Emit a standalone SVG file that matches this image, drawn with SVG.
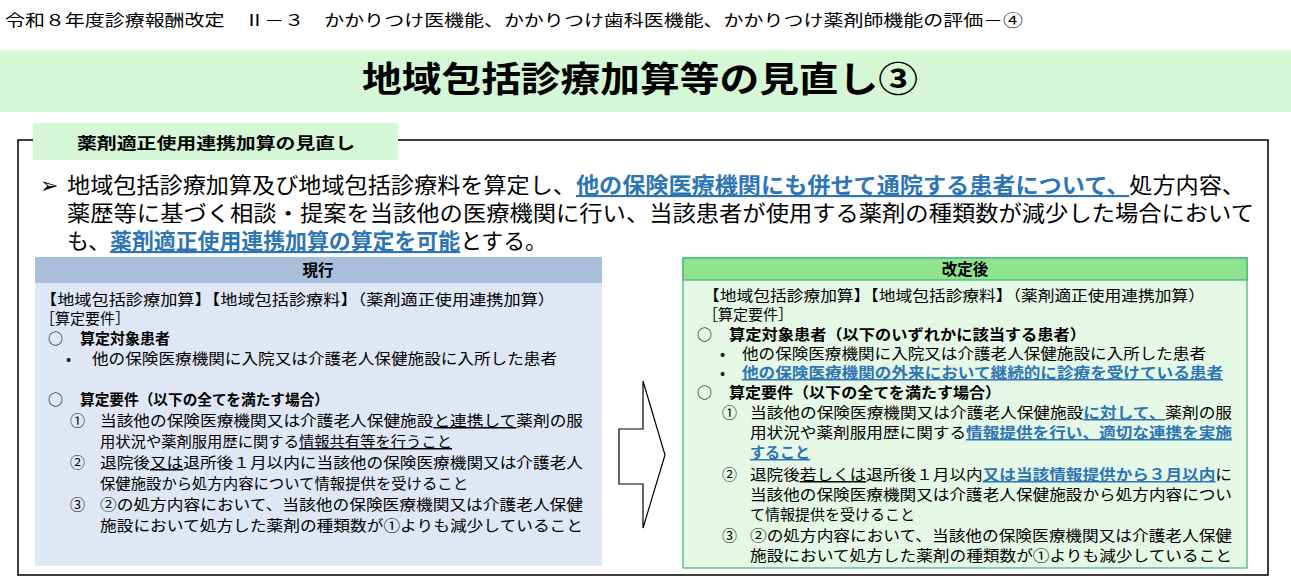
<svg xmlns="http://www.w3.org/2000/svg" width="1291" height="583" viewBox="0 0 1291 583">
<style>
text{font-family:"Noto Sans CJK JP","Noto Sans",sans-serif;fill:#000}
.b{font-weight:bold}
.bl{fill:#2e75b6;font-weight:bold;text-decoration:underline}
.u{text-decoration:underline}
.s{font-size:15px}
.m{font-size:21.5px}
</style>
<rect width="1291" height="583" fill="#fff"/>
<text x="5" y="26" font-size="16" textLength="1018" lengthAdjust="spacingAndGlyphs">令和８年度診療報酬改定　Ⅱ－３　かかりつけ医機能、かかりつけ歯科医機能、かかりつけ薬剤師機能の評価－④</text>
<rect x="0" y="50" width="1291" height="62" fill="#d5f7d5"/>
<text class="b" x="362" y="92" font-size="35" textLength="556" lengthAdjust="spacingAndGlyphs">地域包括診療加算等の見直し③</text>
<g id="frame">
<rect x="18" y="140" width="1250" height="435" fill="none" stroke="#000" stroke-width="1.5"/>
<rect x="33" y="123" width="365" height="37" fill="#d5f7d5"/>
<text class="b" x="77" y="149" font-size="16" textLength="278" lengthAdjust="spacingAndGlyphs">薬剤適正使用連携加算の見直し</text>
</g>
<g id="summary">
<text class="m" x="40" y="193">➢</text>
<text class="m" x="67" y="193" textLength="1178" lengthAdjust="spacingAndGlyphs">地域包括診療加算及び地域包括診療料を算定し、<tspan class="bl">他の保険医療機関にも併せて通院する患者について、</tspan>処方内容、</text>
<text class="m" x="67" y="221" textLength="1187" lengthAdjust="spacingAndGlyphs">薬歴等に基づく相談・提案を当該他の医療機関に行い、当該患者が使用する薬剤の種類数が減少した場合において</text>
<text class="m" x="67" y="249" textLength="480" lengthAdjust="spacingAndGlyphs">も、<tspan class="bl">薬剤適正使用連携加算の算定を可能</tspan>とする。</text>
</g>
<g id="current">
<rect x="35" y="257" width="567" height="309" fill="#dee7f3"/>
<rect x="35" y="257" width="567" height="26" fill="#a8bedb"/>
<text class="b" x="318" y="276" font-size="15.5" text-anchor="middle">現行</text>
<g class="s">
<text x="40" y="305" textLength="515" lengthAdjust="spacingAndGlyphs">【地域包括診療加算】【地域包括診療料】（薬剤適正使用連携加算）</text>
<text x="40" y="324">［算定要件］</text>
<text x="48" y="344">○</text><text class="b" x="80" y="344">算定対象患者</text>
<text x="66" y="364">•</text><text x="92" y="364" textLength="465" lengthAdjust="spacingAndGlyphs">他の保険医療機関に入院又は介護老人保健施設に入所した患者</text>
<text x="48" y="405">○</text><text class="b" x="80" y="405" textLength="249" lengthAdjust="spacingAndGlyphs">算定要件（以下の全てを満たす場合）</text>
<text x="70" y="426">①</text><text x="100" y="426" textLength="483" lengthAdjust="spacingAndGlyphs">当該他の保険医療機関又は介護老人保健施設<tspan class="u">と連携して</tspan>薬剤の服</text>
<text x="100" y="447" textLength="352" lengthAdjust="spacingAndGlyphs">用状況や薬剤服用歴に関する<tspan class="u">情報共有等を行うこと</tspan></text>
<text x="70" y="468">②</text><text x="100" y="468" textLength="483" lengthAdjust="spacingAndGlyphs">退院後<tspan class="u">又は</tspan>退所後１月以内に当該他の保険医療機関又は介護老人</text>
<text x="100" y="489" textLength="368" lengthAdjust="spacingAndGlyphs">保健施設から処方内容について情報提供を受けること</text>
<text x="70" y="510">③</text><text x="100" y="510" textLength="483" lengthAdjust="spacingAndGlyphs">②の処方内容において、当該他の保険医療機関又は介護老人保健</text>
<text x="100" y="531" textLength="483" lengthAdjust="spacingAndGlyphs">施設において処方した薬剤の種類数が①よりも減少していること</text>
</g>
</g>
<g id="arrow">
<path d="M619 429 H643 V381 L665 455 L643 528 V484 H619 Z" fill="#fff" stroke="#000" stroke-width="1.2"/>
</g>
<g id="revised">
<rect x="683" y="258" width="564" height="310" fill="#e5f8e5" stroke="#3cb371" stroke-width="1.2"/>
<rect x="683" y="258" width="564" height="22" fill="#8fe38f" stroke="#3cb371" stroke-width="1.2"/>
<text class="b" x="965" y="275" font-size="15.5" text-anchor="middle">改定後</text>
<g class="s">
<text x="703" y="301" textLength="502" lengthAdjust="spacingAndGlyphs">【地域包括診療加算】【地域包括診療料】（薬剤適正使用連携加算）</text>
<text x="703" y="320">［算定要件］</text>
<text x="697" y="340">○</text><text class="b" x="729" y="340" textLength="357" lengthAdjust="spacingAndGlyphs">算定対象患者（以下のいずれかに該当する患者）</text>
<text x="720" y="359">•</text><text x="742" y="359" textLength="464" lengthAdjust="spacingAndGlyphs">他の保険医療機関に入院又は介護老人保健施設に入所した患者</text>
<text x="720" y="378" fill="#2e75b6">•</text><text class="bl" x="742" y="378" textLength="481" lengthAdjust="spacingAndGlyphs">他の保険医療機関の外来において継続的に診療を受けている患者</text>
<text x="697" y="398">○</text><text class="b" x="729" y="398" textLength="272" lengthAdjust="spacingAndGlyphs">算定要件（以下の全てを満たす場合）</text>
<text x="722" y="418">①</text><text x="750" y="418" textLength="482" lengthAdjust="spacingAndGlyphs">当該他の保険医療機関又は介護老人保健施設<tspan class="bl">に対して、</tspan>薬剤の服</text>
<text x="750" y="438" textLength="482" lengthAdjust="spacingAndGlyphs">用状況や薬剤服用歴に関する<tspan class="bl">情報提供を行い、適切な連携を実施</tspan></text>
<text class="bl" x="750" y="458">すること</text>
<text x="722" y="480">②</text><text x="750" y="480" textLength="482" lengthAdjust="spacingAndGlyphs">退院後<tspan class="u">若しくは</tspan>退所後１月以内<tspan class="bl">又は当該情報提供から３月以内</tspan>に</text>
<text x="750" y="500" textLength="482" lengthAdjust="spacingAndGlyphs">当該他の保険医療機関又は介護老人保健施設から処方内容につい</text>
<text x="750" y="520">て情報提供を受けること</text>
<text x="722" y="541">③</text><text x="750" y="541" textLength="482" lengthAdjust="spacingAndGlyphs">②の処方内容において、当該他の保険医療機関又は介護老人保健</text>
<text x="750" y="561" textLength="482" lengthAdjust="spacingAndGlyphs">施設において処方した薬剤の種類数が①よりも減少していること</text>
</g>
</g>
</svg>
